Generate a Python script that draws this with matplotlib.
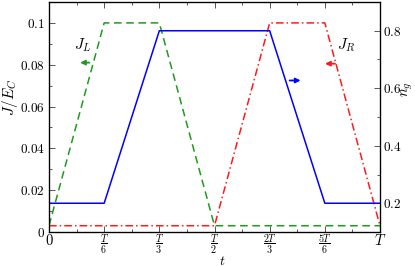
import matplotlib
matplotlib.use("Agg")
import matplotlib.pyplot as plt
from matplotlib.ticker import FixedLocator, MultipleLocator

plt.rcParams['mathtext.fontset'] = 'cm'
plt.rcParams['font.family'] = 'DejaVu Serif'

# data (time in units of T)
t_knots = [0, 1/6, 1/3, 1/2, 2/3, 5/6, 1]
J_L = [0.003, 0.1, 0.1, 0.003, 0.003, 0.003, 0.003]
J_R = [0.003, 0.003, 0.003, 0.003, 0.1, 0.1, 0.003]
n_g = [0.2, 0.2, 0.8, 0.8, 0.8, 0.2, 0.2]

x_ticks = [0, 1/6, 1/3, 1/2, 2/3, 5/6, 1]
x_ticklabels = ['$0$', r'$\dfrac{T}{6}$', r'$\dfrac{T}{3}$', r'$\dfrac{T}{2}$',
                r'$\dfrac{2T}{3}$', r'$\dfrac{5T}{6}$', '$T$']
yl_ticks = [0, 0.02, 0.04, 0.06, 0.08, 0.1]
yl_ticklabels = ['$0$', '$0.02$', '$0.04$', '$0.06$', '$0.08$', '$0.1$']
yr_ticks = [0.2, 0.4, 0.6, 0.8]
yr_ticklabels = ['$0.2$', '$0.4$', '$0.6$', '$0.8$']

green = '#1e9a1e'
red = '#ff1a1a'
blue = '#0000ff'

fig = plt.figure(figsize=(4.15, 2.67), dpi=100)
ax = fig.add_axes([49/415, 35/267, 331/415, 230/267])
ax2 = ax.twinx()

ax.plot(t_knots, J_L, color=green, lw=1.1, ls=(0, (5, 3)))
ax.plot(t_knots, J_R, color=red, lw=1.1, ls=(0, (5, 2, 1, 2)))
ax2.plot(t_knots, n_g, color=blue, lw=1.1)

ax.set_xlim(0, 1)
ax.set_ylim(0, 0.11)
ax2.set_ylim(0.1, 0.9)

ax.xaxis.set_major_locator(FixedLocator(x_ticks))
ax.set_xticklabels(x_ticklabels, fontsize=7.2)
ax.xaxis.set_minor_locator(MultipleLocator(1/12))
ax.yaxis.set_major_locator(FixedLocator(yl_ticks))
ax.set_yticklabels(yl_ticklabels, fontsize=9.5)
ax.yaxis.set_minor_locator(MultipleLocator(0.01))
ax2.yaxis.set_major_locator(FixedLocator(yr_ticks))
ax2.set_yticklabels(yr_ticklabels, fontsize=9.5)
ax2.yaxis.set_minor_locator(MultipleLocator(0.1))

# bigger end labels
xt = ax.get_xticklabels()
xt[0].set_fontsize(10.5)
xt[-1].set_fontsize(10.5)

ax.tick_params(which='both', direction='in', top=True, color='#555555', width=0.7)
ax.tick_params(which='major', length=4, pad=3)
ax.tick_params(which='minor', length=2.5)
ax.tick_params(axis='x', which='major', pad=0.5)
ax.tick_params(axis='y', which='both', right=False)
ax2.tick_params(which='both', direction='in', color='#555555', width=0.7)
ax2.tick_params(which='major', length=4, pad=2.5)
ax2.tick_params(which='minor', length=2.5)

ax.set_xlabel('$t$', fontsize=10)
ax.xaxis.set_label_coords((222-49)/331, (232-268)/230)
ax.xaxis.label.set_va('bottom')
ax.set_ylabel('$J/E_C$', fontsize=11)
ax.yaxis.set_label_coords((20-49)/331, (232-97)/230)
ax2.set_ylabel('$n_g$', fontsize=10.5)
ax2.yaxis.set_label_coords((400-49)/331, (232-89)/230)

ax.text(0.103, 0.0895, '$J_L$', fontsize=11, ha='center', va='center')
ax.text(0.897, 0.0895, '$J_R$', fontsize=11, ha='center', va='center')

arrow_kw = dict(arrowstyle='-|>', lw=1.3, mutation_scale=7, shrinkA=0, shrinkB=0)
ax.annotate('', xy=(0.094, 0.081), xytext=(0.122, 0.081),
            arrowprops=dict(color=green, **arrow_kw))
ax.annotate('', xy=(0.834, 0.0805), xytext=(0.864, 0.0805),
            arrowprops=dict(color=red, **arrow_kw))
ax2.annotate('', xy=(0.76, 0.627), xytext=(0.727, 0.627),
             arrowprops=dict(color=blue, **arrow_kw))

for s in ax.spines.values():
    s.set_linewidth(0.9)

fig.savefig('out.png', dpi=100)
